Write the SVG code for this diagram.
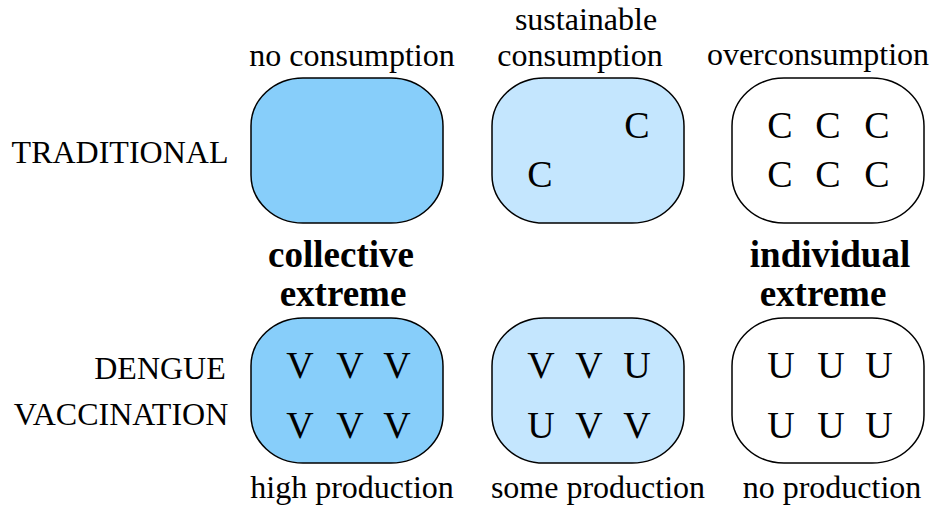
<svg xmlns="http://www.w3.org/2000/svg" width="932" height="507" viewBox="0 0 932 507">
<style>
  .lbl { font-size: 32px; text-anchor: middle; }
  .bold { font-size: 37px; font-weight: bold; text-anchor: middle; }
  .let { font-size: 38px; text-anchor: middle; }
  .box { stroke: #000; stroke-width: 1.5; }
  .dark { fill: #87CEFA; }
  .light { fill: #C4E6FE; }
  .white { fill: #FFFFFF; }
</style>
<rect width="932" height="507" fill="#FFFFFF"/>
<g font-family="'Liberation Serif', 'DejaVu Serif', 'Times New Roman', serif" fill="#000">
<g id="row-labels">
  <text class="lbl" x="120" y="163">TRADITIONAL</text>
  <text class="lbl" x="160" y="379">DENGUE</text>
  <text class="lbl" x="121" y="425">VACCINATION</text>
</g>
<g id="col-labels">
  <text class="lbl" x="352" y="66">no consumption</text>
  <text class="lbl" x="586" y="30">sustainable</text>
  <text class="lbl" x="580" y="66">consumption</text>
  <text class="lbl" x="818" y="65">overconsumption</text>
  <text class="lbl" x="352" y="498">high production</text>
  <text class="lbl" x="598" y="498">some production</text>
  <text class="lbl" x="832" y="498">no production</text>
</g>
<g id="extremes">
  <text class="bold" x="341" y="267">collective</text>
  <text class="bold" x="343" y="306">extreme</text>
  <text class="bold" x="830" y="267">individual</text>
  <text class="bold" x="823" y="306">extreme</text>
</g>
<g id="trad-none">
  <rect class="box dark" x="251" y="78" width="192" height="145" rx="52" ry="48"/>
</g>
<g id="trad-sustainable">
  <rect class="box light" x="492" y="78" width="192" height="145" rx="52" ry="48"/>
  <text class="let" x="637" y="138">C</text>
  <text class="let" x="540" y="187">C</text>
</g>
<g id="trad-over">
  <rect class="box white" x="732" y="78" width="192" height="145" rx="52" ry="48"/>
  <text class="let" x="780" y="138">C</text>
  <text class="let" x="828" y="138">C</text>
  <text class="let" x="877" y="138">C</text>
  <text class="let" x="780" y="187">C</text>
  <text class="let" x="828" y="187">C</text>
  <text class="let" x="877" y="187">C</text>
</g>
<g id="vacc-high">
  <rect class="box dark" x="251" y="318" width="192" height="145" rx="52" ry="48"/>
  <text class="let" x="300" y="378">V</text>
  <text class="let" x="350" y="378">V</text>
  <text class="let" x="397" y="378">V</text>
  <text class="let" x="300" y="438">V</text>
  <text class="let" x="350" y="438">V</text>
  <text class="let" x="397" y="438">V</text>
</g>
<g id="vacc-some">
  <rect class="box light" x="492" y="318" width="192" height="145" rx="52" ry="48"/>
  <text class="let" x="541" y="378">V</text>
  <text class="let" x="589" y="378">V</text>
  <text class="let" x="637" y="378">U</text>
  <text class="let" x="541" y="438">U</text>
  <text class="let" x="589" y="438">V</text>
  <text class="let" x="637" y="438">V</text>
</g>
<g id="vacc-none">
  <rect class="box white" x="732" y="318" width="192" height="145" rx="52" ry="48"/>
  <text class="let" x="781" y="378">U</text>
  <text class="let" x="831" y="378">U</text>
  <text class="let" x="879" y="378">U</text>
  <text class="let" x="781" y="438">U</text>
  <text class="let" x="831" y="438">U</text>
  <text class="let" x="879" y="438">U</text>
</g>
</g>
<g id="connectors"></g>
</svg>
